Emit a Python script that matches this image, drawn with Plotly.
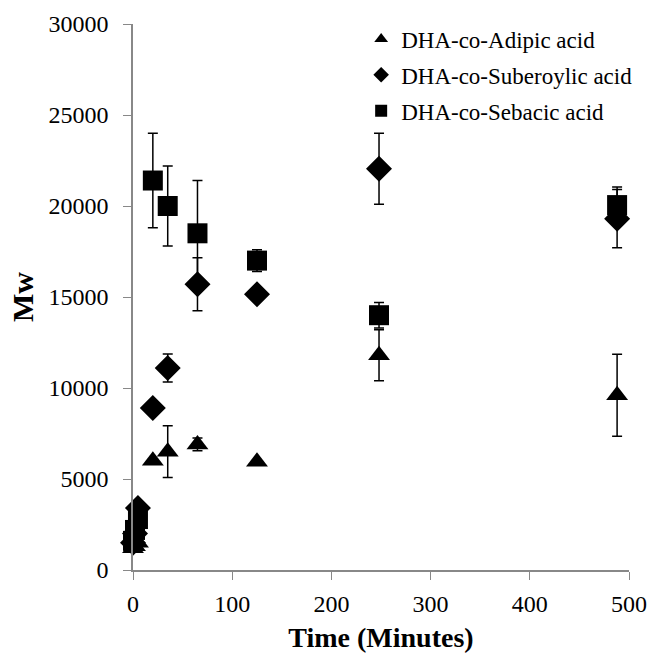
import plotly.graph_objects as go

time_min = [0, 2, 5, 20, 35, 65, 125, 248, 488]

adipic = [1200, 1300, 1500, 6000, 6500, 6900, 5950, 11800, 9600]
adipic_err = [0, 0, 0, 0, 1420, 350, 0, 1400, 2250]

suberoylic = [1500, 2000, 3400, 8900, 11100, 15700, 15150, 22050, 19300]
suberoylic_err = [0, 0, 0, 0, 770, 1450, 0, 1950, 1600]

sebacic = [1600, 2200, 2800, 21400, 20000, 18500, 17000, 14000, 20050]
sebacic_err = [0, 0, 0, 2600, 2200, 2900, 600, 700, 1000]

series_names = ["DHA-co-Adipic acid", "DHA-co-Suberoylic acid", "DHA-co-Sebacic acid"]
x_ticks = [0, 100, 200, 300, 400, 500]
y_ticks = [0, 5000, 10000, 15000, 20000, 25000, 30000]
y_tick_labels = ["0", "5000", "10000", "15000", "20000", "25000", "30000"]

FONT = "Liberation Serif"

fig = go.Figure()
specs = [
    (adipic, adipic_err, "triangle-up", 19, series_names[0]),
    (suberoylic, suberoylic_err, "diamond", 20, series_names[1]),
    (sebacic, sebacic_err, "square", 20, series_names[2]),
]
for i, (vals, errs, sym, sz, name) in enumerate(specs):
    fig.add_trace(go.Scatter(
        x=time_min, y=vals, mode="markers", name=name,
        legendgroup=f"g{i}",
        marker=dict(symbol=sym, size=sz, color="black"),
        error_y=dict(type="data", array=errs, visible=True,
                     color="black", thickness=1.5, width=5),
        cliponaxis=False,
    ))

fig.update_layout(
    width=662, height=653,
    margin=dict(l=133, r=33, t=24, b=83),
    paper_bgcolor="white", plot_bgcolor="white",
    font=dict(family=FONT, color="black", size=23),
    showlegend=True,
    legend=dict(
        x=0.46, y=1.012, xanchor="left", yanchor="top",
        font=dict(family=FONT, size=23, color="black"),
        bgcolor="rgba(0,0,0,0)",
        tracegroupgap=3,
        itemsizing="constant",
        itemwidth=30,
    ),
    xaxis=dict(
        range=[0, 500], tickvals=x_ticks, ticks="outside", ticklen=8,
        tickcolor="#888888", showline=True, linecolor="#888888", linewidth=1.5,
        showgrid=False, zeroline=False, ticklabelstandoff=3, automargin=False,
        tickfont=dict(family=FONT, size=24, color="black"),
        title=dict(text="<b>Time (Minutes)</b>", font=dict(family=FONT, size=28, color="black"), standoff=16),
    ),
    yaxis=dict(
        range=[0, 30000], tickvals=y_ticks, ticktext=y_tick_labels, ticks="outside", ticklen=8,
        tickcolor="#888888", showline=True, linecolor="#888888", linewidth=1.5,
        showgrid=False, zeroline=False, ticklabelstandoff=10, automargin=False,
        tickfont=dict(family=FONT, size=24, color="black"),
        title=dict(text="<b>Mw</b>", font=dict(family=FONT, size=30, color="black"), standoff=6),
    ),
)

fig.write_html("out.html")
